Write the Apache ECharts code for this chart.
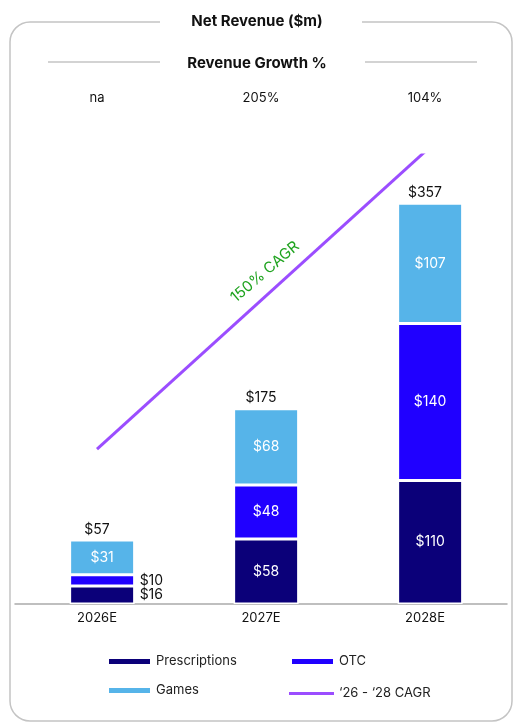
<!DOCTYPE html>
<html>
<head>
<meta charset="utf-8">
<script src="https://cdn.jsdelivr.net/npm/echarts@6/dist/echarts.min.js"></script>
<style>
html, body { margin: 0; padding: 0; background: #fff; }
#chart { width: 514px; height: 724px; }
</style>
</head>
<body>
<div id="chart"></div>
<script>
var years = ["2026E", "2027E", "2028E"];
var growth = ["na", "205%", "104%"];
var prescriptions = [16, 58, 110];
var otc = [10, 48, 140];
var games = [31, 68, 107];
var totals = [57, 175, 357];
var cagrLine = [138, "-", 403];

var FONT = "Inter";
var DARK = "#0b0079";
var BLUE = "#2000ff";
var LIGHT = "#56b4e9";
var PURPLE = "#9b4dff";
var CAGR_NAME = "\u201826 - \u201828 CAGR";

var chart = echarts.init(document.getElementById("chart"));

function money(p) { return "$" + p.value; }

var legendText = { fontSize: 13, color: "#222", fontFamily: FONT };

chart.setOption({
	animation: false,
	textStyle: { fontFamily: FONT },
	title: [
		{
			text: "Net Revenue ($m)",
			left: "center",
			top: 9,
			textStyle: { fontSize: 15, fontWeight: "bold", color: "#111", fontFamily: FONT },
		},
		{
			text: "Revenue Growth %",
			left: "center",
			top: 51,
			textStyle: { fontSize: 15, fontWeight: "bold", color: "#111", fontFamily: FONT },
		},
	],
	graphic: [
		{
			type: "rect",
			shape: { x: 10, y: 22, width: 502, height: 699, r: 20 },
			style: { fill: "none", stroke: "#c4c4c4", lineWidth: 1.5 },
		},
		{
			type: "rect",
			shape: { x: 160, y: 14, width: 202, height: 16 },
			style: { fill: "#fff" },
		},
		{
			type: "line",
			shape: { x1: 48, y1: 62, x2: 160, y2: 62 },
			style: { stroke: "#c4c4c4", lineWidth: 1.5 },
		},
		{
			type: "line",
			shape: { x1: 365, y1: 62, x2: 477, y2: 62 },
			style: { stroke: "#c4c4c4", lineWidth: 1.5 },
		},
		{
			type: "text",
			x: 265,
			y: 272,
			rotation: 0.71,
			style: {
				text: "150% CAGR",
				fill: "#1fa31f",
				font: "15px " + FONT,
				align: "center",
				verticalAlign: "middle",
			},
		},
	],
	legend: [
		{
			left: 102,
			top: 650,
			orient: "vertical",
			itemWidth: 43,
			itemHeight: 7,
			itemGap: 16,
			data: [
				{ name: "Prescriptions", icon: "rect" },
				{ name: "Games", icon: "rect" },
			],
			textStyle: legendText,
		},
		{
			left: 285,
			top: 650,
			itemWidth: 43,
			itemHeight: 7,
			data: [{ name: "OTC", icon: "rect" }],
			textStyle: legendText,
		},
		{
			left: 284,
			top: 682,
			itemWidth: 45,
			itemHeight: 3,
			data: [{ name: CAGR_NAME, icon: "rect" }],
			textStyle: legendText,
		},
	],
	grid: { left: 15, right: 7, top: 155, bottom: 120 },
	xAxis: [
		{
			type: "category",
			data: years,
			axisTick: { show: false },
			axisLine: { lineStyle: { color: "#aaa", width: 1.5 } },
			axisLabel: { color: "#111", fontSize: 13, margin: 8 },
		},
		{
			type: "category",
			data: growth,
			position: "top",
			offset: 42,
			axisTick: { show: false },
			axisLine: { show: false },
			axisLabel: { color: "#111", fontSize: 13 },
		},
	],
	yAxis: {
		type: "value",
		min: 0,
		max: 400,
		show: false,
		splitLine: { show: false },
	},
	series: [
		{
			name: "Prescriptions",
			type: "bar",
			stack: "rev",
			barWidth: 65,
			data: prescriptions.map(function (v, i) {
				return i === 0 ? { value: v, label: { position: "right", color: "#111" } } : v;
			}),
			itemStyle: { color: DARK, borderColor: "#fff", borderWidth: 1.5 },
			label: { show: true, position: "inside", color: "#fff", fontSize: 14, formatter: money },
		},
		{
			name: "OTC",
			type: "bar",
			stack: "rev",
			data: otc.map(function (v, i) {
				return i === 0 ? { value: v, label: { position: "right", color: "#111" } } : v;
			}),
			itemStyle: { color: BLUE, borderColor: "#fff", borderWidth: 1.5 },
			label: { show: true, position: "inside", color: "#fff", fontSize: 14, formatter: money },
		},
		{
			name: "Games",
			type: "bar",
			stack: "rev",
			data: games,
			itemStyle: { color: LIGHT, borderColor: "#fff", borderWidth: 1.5 },
			label: { show: true, position: "inside", color: "#fff", fontSize: 14, formatter: money },
		},
		{
			name: "Total",
			type: "bar",
			barGap: "-100%",
			data: totals,
			z: 1,
			silent: true,
			itemStyle: { color: "rgba(0,0,0,0)" },
			label: { show: true, position: "top", distance: 3, color: "#111", fontSize: 14, formatter: money },
		},
		{
			name: CAGR_NAME,
			type: "line",
			data: cagrLine,
			connectNulls: true,
			symbol: "none",
			z: 5,
			itemStyle: { color: PURPLE },
			lineStyle: { color: PURPLE, width: 3 },
		},
	],
});
</script>
</body>
</html>
